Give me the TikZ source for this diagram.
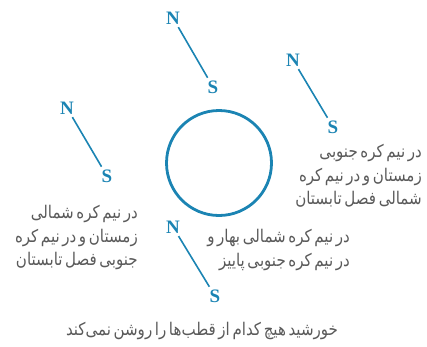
\documentclass[tikz,border=0pt]{standalone}
\usepackage{fontspec}
\newfontfamily\arabicfont[Script=Arabic,FakeStretch=0.86,WordSpace=0.55]{DejaVu Sans}
\newfontfamily\poleserif{Liberation Serif}
\TeXXeTstate=1
\definecolor{poleblue}{HTML}{1B84B3}
\definecolor{txtgray}{HTML}{5A5A5A}
\begin{document}
\begin{tikzpicture}[x=1pt,y=-1pt,
  pole/.style={font=\poleserif\bfseries\fontsize{19}{19}\selectfont, text=poleblue, inner sep=1pt},
  axis/.style={draw=poleblue, line width=1.6pt, shorten <=2pt, shorten >=2pt},
  note/.style={font=\arabicfont\fontsize{17.5}{23.5}\selectfont, text=txtgray, align=right, inner sep=0pt}
]
\useasboundingbox (0,0) rectangle (427,346);
\node[draw=poleblue, line width=2.8pt, circle, minimum size=105pt, inner sep=0pt] (sun) at (219,163) {};
% top magnet
\node[pole] (n1) at (173,18) {N};
\node[pole] (s1) at (213,87) {S};
\draw[axis] (n1) -- (s1);
% left magnet
\node[pole] (n2) at (67,108) {N};
\node[pole] (s2) at (107,176) {S};
\draw[axis] (n2) -- (s2);
% right magnet
\node[pole] (n3) at (293,60) {N};
\node[pole] (s3) at (333,127) {S};
\draw[axis] (n3) -- (s3);
% bottom magnet
\node[pole] (n4) at (173,227) {N};
\node[pole] (s4) at (215,296) {S};
\draw[axis] (n4) -- (s4);
% texts
\node[note, anchor=north east] (tl) at (138,205) {\beginR در نیم کره شمالی\endR\\\beginR زمستان و در نیم کره\endR\\\beginR جنوبی فصل تابستان\endR};
\node[note, anchor=north east] (tr) at (422,144) {\beginR در نیم کره جنوبی\endR\\\beginR زمستان و در نیم کره\endR\\\beginR شمالی فصل تابستان\endR};
\node[note, anchor=north east] (tm) at (350,229) {\beginR در نیم کره شمالی بهار و\endR\\\beginR در نیم کره جنوبی پاییز\endR};
\node[note, anchor=center] (tb) at (202,331) {\beginR خورشید هیچ کدام از قطب‌ها را روشن نمی‌کند\endR};
\end{tikzpicture}
\end{document}
